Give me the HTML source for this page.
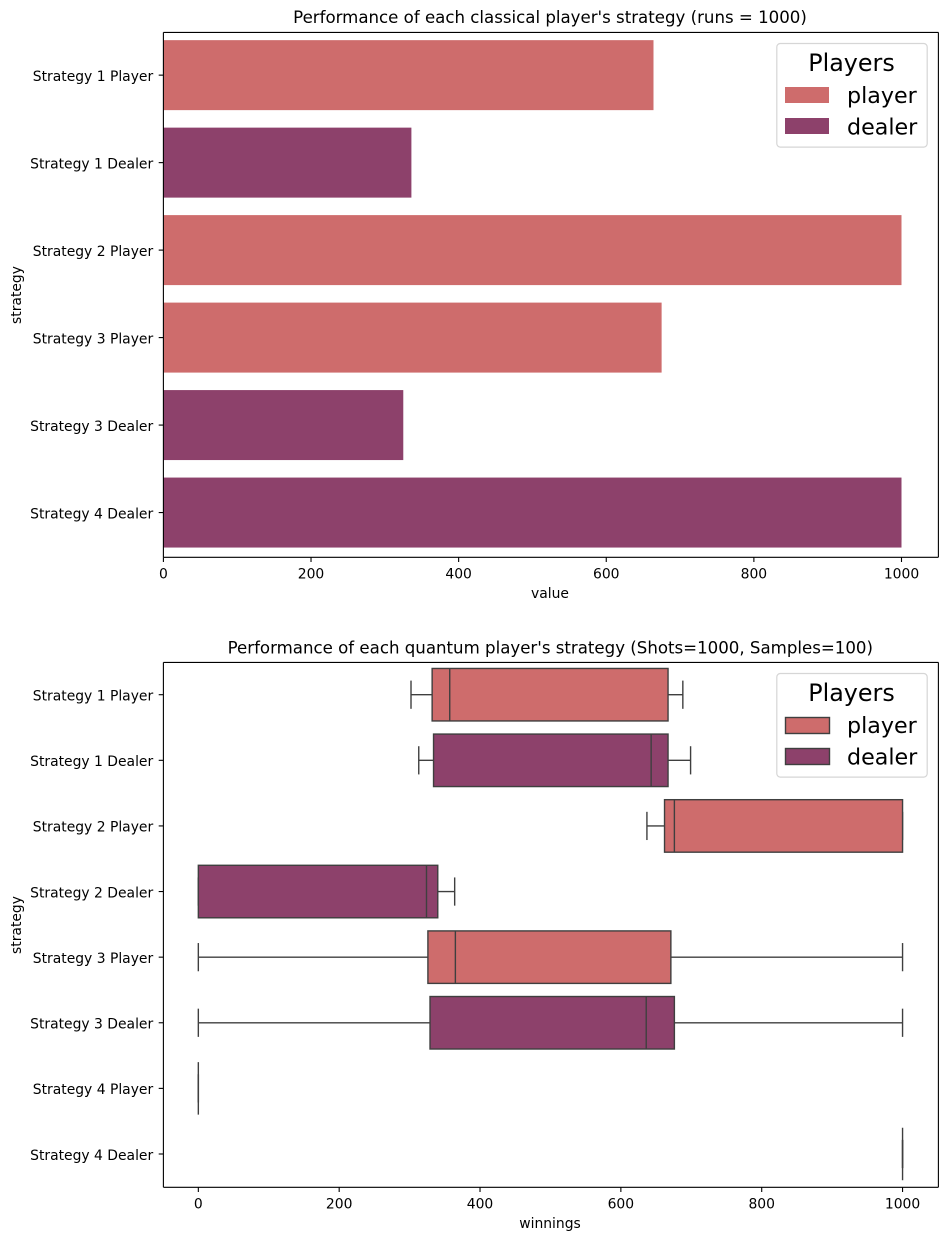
<!DOCTYPE html>
<html>
<head>
<meta charset="utf-8">
<title>Strategy performance</title>
<style>
html,body{margin:0;padding:0;background:#fff;}
svg{display:block;}
text{font-family:"DejaVu Sans","Liberation Sans",sans-serif;fill:#000;}
</style>
</head>
<body>
<svg id="chart" xmlns="http://www.w3.org/2000/svg" width="947" height="1240" viewBox="0 0 947 1240">
  <rect x="0" y="0" width="947" height="1240" fill="#ffffff"/>
  <g id="top-marks"></g>
  <g id="bottom-marks"></g>
  <g id="axes"></g>

  <text x="550" y="23" font-size="16.62" text-anchor="middle">Performance of each classical player's strategy (runs = 1000)</text>
  <text x="550" y="598" font-size="13.9" text-anchor="middle">value</text>
  <text x="21" y="295" font-size="13.9" text-anchor="middle" transform="rotate(-90 21 295)">strategy</text>

  <text x="550.3" y="653.7" font-size="16.62" text-anchor="middle">Performance of each quantum player's strategy (Shots=1000, Samples=100)</text>
  <text x="550" y="1228" font-size="13.9" text-anchor="middle">winnings</text>
  <text x="21" y="925" font-size="13.9" text-anchor="middle" transform="rotate(-90 21 925)">strategy</text>

  <g>
    <rect x="776.8" y="43.5" width="150.4" height="103.6" rx="3.5" fill="#ffffff" fill-opacity="0.8" stroke="#d6d6d6" stroke-width="1.2"/>
    <text x="851.5" y="70.8" font-size="23.8" text-anchor="middle">Players</text>
    <rect x="785" y="87" width="44" height="16" fill="#ce6c6c"/>
    <text x="847" y="103" font-size="22.2">player</text>
    <rect x="785" y="118" width="44" height="16" fill="#8d416b"/>
    <text x="847" y="134.7" font-size="22.2">dealer</text>
  </g>
  <g>
    <rect x="776.8" y="673.5" width="150.4" height="103.6" rx="3.5" fill="#ffffff" fill-opacity="0.8" stroke="#d6d6d6" stroke-width="1.2"/>
    <text x="851.5" y="700.8" font-size="23.8" text-anchor="middle">Players</text>
    <rect x="785.5" y="717.5" width="44" height="16" fill="#ce6c6c" stroke="#3f3f3f" stroke-width="1.4"/>
    <text x="847" y="733" font-size="22.2">player</text>
    <rect x="785.5" y="748.5" width="44" height="16" fill="#8d416b" stroke="#3f3f3f" stroke-width="1.4"/>
    <text x="847" y="764.7" font-size="22.2">dealer</text>
  </g>
</svg>
<script>
// Classical chart data
const classicalCategories = ["Strategy 1 Player", "Strategy 1 Dealer", "Strategy 2 Player", "Strategy 3 Player", "Strategy 3 Dealer", "Strategy 4 Dealer"];
const classicalRoles = ["player", "dealer", "player", "player", "dealer", "dealer"];
const classicalValues = [664, 336, 1000, 675, 325, 1000];
const classicalTicks = [0, 200, 400, 600, 800, 1000];

// Quantum chart data
const quantumCategories = ["Strategy 1 Player", "Strategy 1 Dealer", "Strategy 2 Player", "Strategy 2 Dealer", "Strategy 3 Player", "Strategy 3 Dealer", "Strategy 4 Player", "Strategy 4 Dealer"];
const quantumRoles = ["player", "dealer", "player", "dealer", "player", "dealer", "player", "dealer"];
const quantumLow = [302, 313, 637, 0, 0, 0, 0, 1000];
const quantumQ1 = [332, 334, 662, 0, 326, 329, 0, 1000];
const quantumMedian = [357, 643, 676, 324, 365, 636, 0, 1000];
const quantumQ3 = [667, 667, 1000, 340, 671, 676, 0, 1000];
const quantumHigh = [688, 699, 1000, 364, 1000, 1000, 0, 1000];
const quantumTicks = [0, 200, 400, 600, 800, 1000];

const roleColors = {player: "#ce6c6c", dealer: "#8d416b"};
const lineColor = "#3f3f3f";
const NS = "http://www.w3.org/2000/svg";

const frameLeft = 163.4, frameRight = 938.4;
const topFrame = {top: 32.4, bottom: 557.3, shift: -1.0};
const bottomFrame = {top: 662.4, bottom: 1187.3, shift: -0.5};

function xClassical(v) { return frameLeft + (v - 0) / 1050 * (frameRight - frameLeft); }
function xQuantum(v) { return frameLeft + (v + 49.6) / 1100.5 * (frameRight - frameLeft); }
function yBand(i, count, frame) { return frame.top + frame.shift + (i + 0.5) / count * (frame.bottom - frame.top); }
function bandStep(count, frame) { return (frame.bottom - frame.top) / count; }

function make(tag, attrs, parent) {
  const el = document.createElementNS(NS, tag);
  for (const k in attrs) el.setAttribute(k, attrs[k]);
  parent.appendChild(el);
  return el;
}

const topMarks = document.getElementById("top-marks");
const bottomMarks = document.getElementById("bottom-marks");
const axes = document.getElementById("axes");

function line(x1, y1, x2, y2, color, width, parent, name) {
  const el = make("line", {x1: x1, y1: y1, x2: x2, y2: y2, stroke: color, "stroke-width": width}, parent);
  
  
  return el;
}

function label(x, y, str, anchor, parent, name) {
  const el = make("text", {x: x, y: y, "font-size": 13.9, "text-anchor": anchor}, parent);
  el.textContent = str;
  
  
  return el;
}

function drawBars() {
  const step = bandStep(classicalCategories.length, topFrame);
  classicalValues.forEach(function (v, i) {
    const cy = yBand(i, classicalCategories.length, topFrame);
    const bar = make("rect", {
      x: xClassical(0), y: cy - step * 0.4,
      width: xClassical(v) - xClassical(0), height: step * 0.8,
      fill: roleColors[classicalRoles[i]]
    }, topMarks);
    
    
  });
}

function drawBoxes() {
  const count = quantumCategories.length;
  const step = bandStep(count, bottomFrame);
  quantumCategories.forEach(function (c, i) {
    const cy = yBand(i, count, bottomFrame);
    const h = step * 0.8, cap = step * 0.215, lw = 1.4;
    const group = make("g", {}, bottomMarks);
    
    
    line(xQuantum(quantumLow[i]), cy, xQuantum(quantumQ1[i]), cy, lineColor, lw, group, 'whisker-low');
    line(xQuantum(quantumQ3[i]), cy, xQuantum(quantumHigh[i]), cy, lineColor, lw, group, 'whisker-high');
    line(xQuantum(quantumLow[i]), cy - cap, xQuantum(quantumLow[i]), cy + cap, lineColor, lw, group, 'cap-low');
    line(xQuantum(quantumHigh[i]), cy - cap, xQuantum(quantumHigh[i]), cy + cap, lineColor, lw, group, 'cap-high');
    const box = make("rect", {
      x: xQuantum(quantumQ1[i]), y: cy - h / 2,
      width: xQuantum(quantumQ3[i]) - xQuantum(quantumQ1[i]), height: h,
      fill: roleColors[quantumRoles[i]], stroke: lineColor, "stroke-width": lw
    }, group);
    
    
    line(xQuantum(quantumMedian[i]), cy - h / 2, xQuantum(quantumMedian[i]), cy + h / 2, lineColor, lw, group, 'median-line');
  });
}

function drawAxes(frame, ticks, xFn, categories) {
  const lw = 1.1;
  line(frameLeft, frame.top, frameRight, frame.top, "#000", lw, axes, 'spine-top');
  line(frameLeft, frame.bottom, frameRight, frame.bottom, "#000", lw, axes, 'spine-bottom');
  line(frameLeft, frame.top, frameLeft, frame.bottom, "#000", lw, axes, 'spine-left');
  line(frameRight, frame.top, frameRight, frame.bottom, "#000", lw, axes, 'spine-right');
  ticks.forEach(function (t) {
    line(xFn(t), frame.bottom, xFn(t), frame.bottom + 4.7, "#000", lw, axes, 'x-tick');
    label(xFn(t), frame.bottom + 21, String(t), "middle", axes, 'x-tick-label');
  });
  categories.forEach(function (c, i) {
    const y = yBand(i, categories.length, frame);
    line(frameLeft - 4.7, y, frameLeft, y, "#000", lw, axes, 'y-tick');
    label(frameLeft - 10.2, y + 5.8, c, "end", axes, 'y-tick-label');
  });
}

drawBars();
drawBoxes();
drawAxes(topFrame, classicalTicks, xClassical, classicalCategories);
drawAxes(bottomFrame, quantumTicks, xQuantum, quantumCategories);
</script>
</body>
</html>
